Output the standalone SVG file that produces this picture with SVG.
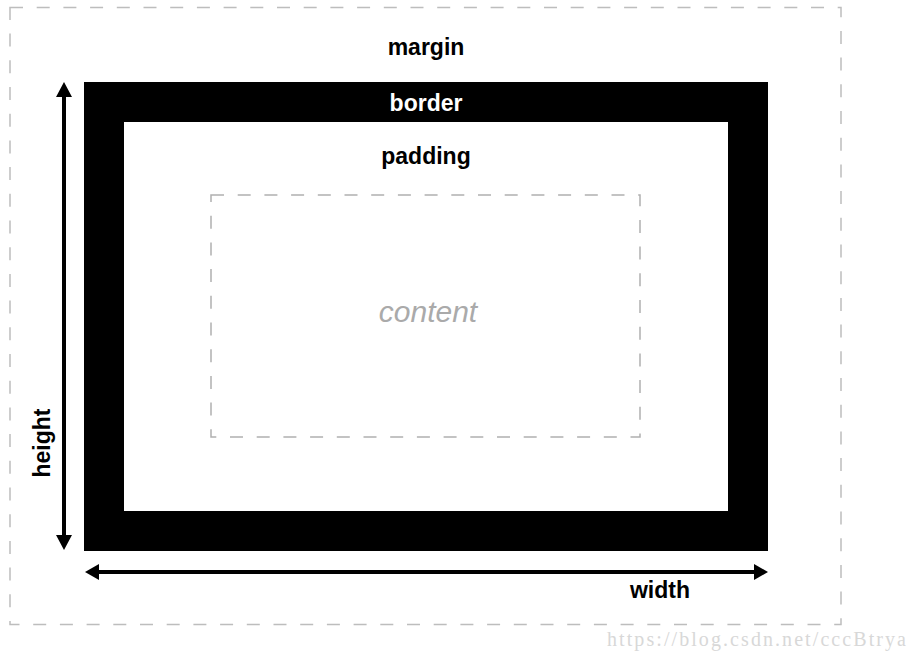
<svg xmlns="http://www.w3.org/2000/svg" width="918" height="660" viewBox="0 0 918 660">
<style>
.dash{fill:none;stroke:#bdbdbd;stroke-width:1.5;stroke-dasharray:13 13.7}
.dash2{fill:none;stroke:#b0b0b0;stroke-width:1.5;stroke-dasharray:13 13.7}
.lbl{font-family:"Liberation Sans",Arial,sans-serif;font-weight:bold;font-size:23px;text-anchor:middle;fill:#000}
.arr{stroke:#000;stroke-width:4;fill:none}
</style>
<rect width="918" height="660" fill="#fff"/>
<g id="margin">
<rect class="dash" x="10" y="7.5" width="831" height="617"/>
<text class="lbl" x="426" y="55">margin</text>
</g>
<g id="border">
<rect x="104" y="102" width="644" height="429" fill="none" stroke="#000" stroke-width="40"/>
<text class="lbl" x="426" y="111" style="fill:#fff">border</text>
</g>
<g id="padding">
<text class="lbl" x="426" y="164">padding</text>
</g>
<g id="content">
<rect class="dash2" x="211" y="195" width="429" height="242"/>
<text x="428" y="322" font-family="'Liberation Sans',Arial,sans-serif" font-style="italic" font-size="30" fill="#aaa" text-anchor="middle">content</text>
</g>
<g id="connectors">
<line class="arr" x1="64" y1="97" x2="64" y2="535"/>
<path d="M56,97 L64,82 L72,97 Z" fill="#000"/>
<path d="M56,535 L64,550 L72,535 Z" fill="#000"/>
<line class="arr" x1="99" y1="572" x2="754" y2="572"/>
<path d="M99,564 L85,572 L99,580 Z" fill="#000"/>
<path d="M754,564 L768,572 L754,580 Z" fill="#000"/>
</g>
<g id="height-label">
<text class="lbl" x="0" y="0" transform="translate(50,443) rotate(-90)">height</text>
</g>
<g id="width-label">
<text class="lbl" x="660" y="598">width</text>
</g>
<text x="607" y="646" font-family="'Liberation Serif','DejaVu Serif',serif" font-size="20" fill="#d8d8d8" textLength="299" lengthAdjust="spacing">https://blog.csdn.net/cccBtrya</text>
</svg>
